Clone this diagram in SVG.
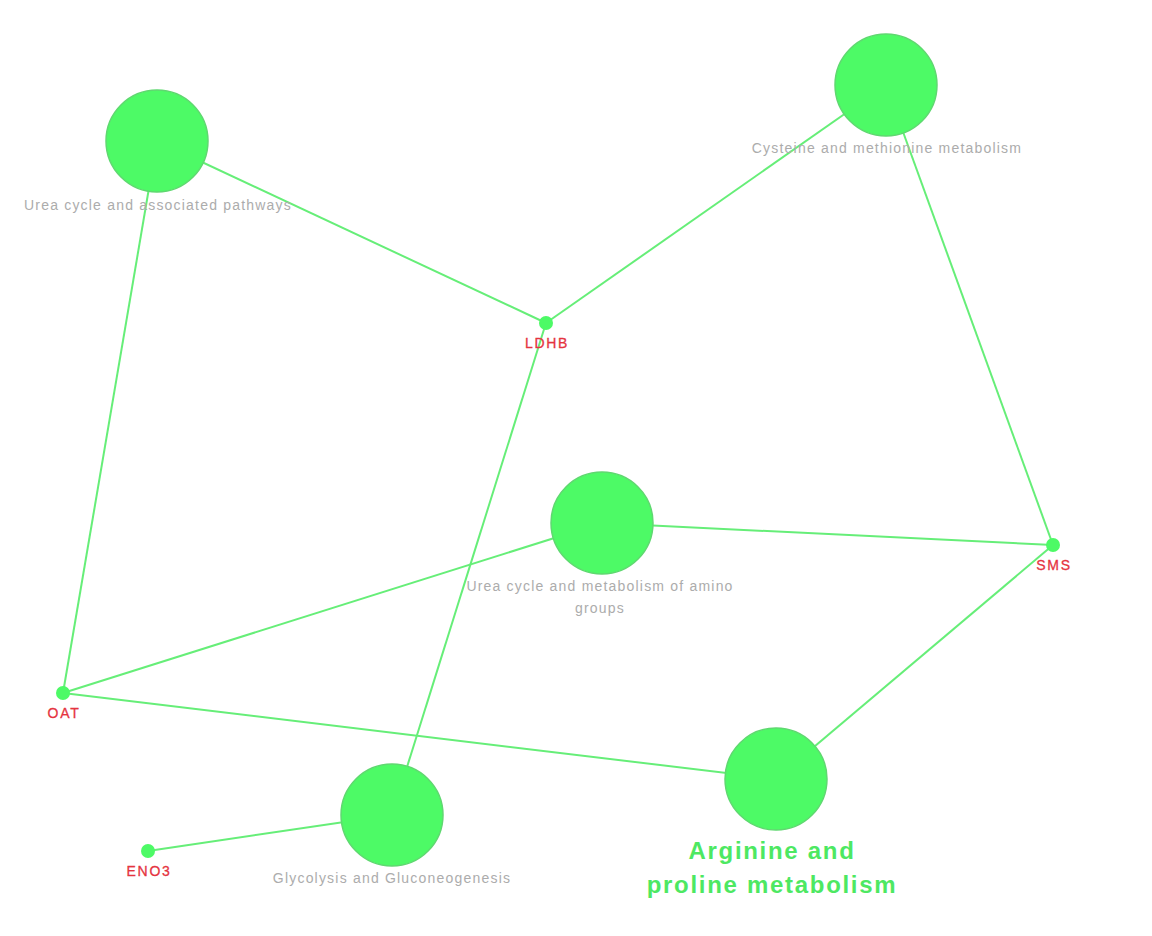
<svg xmlns="http://www.w3.org/2000/svg" width="1152" height="936" viewBox="0 0 1152 936">
<style>
.edge{stroke:#66ee78;stroke-width:2;fill:none}
.big{fill:#4dfa66;stroke:#5fd870;stroke-width:1.5}
.small{fill:#4dfa66}
.plab{font-family:"Liberation Sans",Arial,sans-serif;font-size:14px;letter-spacing:1.2px;fill:#acacac;text-anchor:middle}
.glab{font-family:"Liberation Sans",Arial,sans-serif;font-size:14px;letter-spacing:1.7px;fill:#e5343f;stroke:#e5343f;stroke-width:0.3;text-anchor:middle}
.hlab{font-family:"Liberation Sans",Arial,sans-serif;font-size:24px;letter-spacing:1.7px;font-weight:bold;fill:#4de862;text-anchor:middle}
</style>
<rect width="1152" height="936" fill="#ffffff"/>
<g id="connectors">
<line class="edge" x1="157" y1="141" x2="546" y2="323"/>
<line class="edge" x1="157" y1="141" x2="63" y2="693"/>
<line class="edge" x1="886" y1="85" x2="546" y2="323"/>
<line class="edge" x1="886" y1="85" x2="1053" y2="545"/>
<line class="edge" x1="546" y1="323" x2="392" y2="815"/>
<line class="edge" x1="602" y1="523" x2="1053" y2="545"/>
<line class="edge" x1="602" y1="523" x2="63" y2="693"/>
<line class="edge" x1="63" y1="693" x2="776" y2="779"/>
<line class="edge" x1="1053" y1="545" x2="776" y2="779"/>
<line class="edge" x1="148" y1="851" x2="392" y2="815"/>
</g>
<g id="urea-assoc">
<circle class="big" cx="157" cy="141" r="51"/>
<text class="plab" x="158" y="210">Urea cycle and associated pathways</text>
</g>
<g id="cysteine">
<circle class="big" cx="886" cy="85" r="51"/>
<text class="plab" x="887" y="153">Cysteine and methionine metabolism</text>
</g>
<g id="urea-amino">
<circle class="big" cx="602" cy="523" r="51"/>
<text class="plab" x="600" y="591">Urea cycle and metabolism of amino</text>
<text class="plab" x="600" y="613">groups</text>
</g>
<g id="glycolysis">
<circle class="big" cx="392" cy="815" r="51"/>
<text class="plab" x="392" y="883">Glycolysis and Gluconeogenesis</text>
</g>
<g id="arginine">
<circle class="big" cx="776" cy="779" r="51"/>
<text class="hlab" x="772" y="859">Arginine and</text>
<text class="hlab" x="772" y="893">proline metabolism</text>
</g>
<g id="LDHB">
<circle class="small" cx="546" cy="323" r="7"/>
<text class="glab" x="547" y="348">LDHB</text>
</g>
<g id="SMS">
<circle class="small" cx="1053" cy="545" r="7"/>
<text class="glab" x="1054" y="570">SMS</text>
</g>
<g id="OAT">
<circle class="small" cx="63" cy="693" r="7"/>
<text class="glab" x="64" y="718">OAT</text>
</g>
<g id="ENO3">
<circle class="small" cx="148" cy="851" r="7"/>
<text class="glab" x="149" y="876">ENO3</text>
</g>
</svg>
